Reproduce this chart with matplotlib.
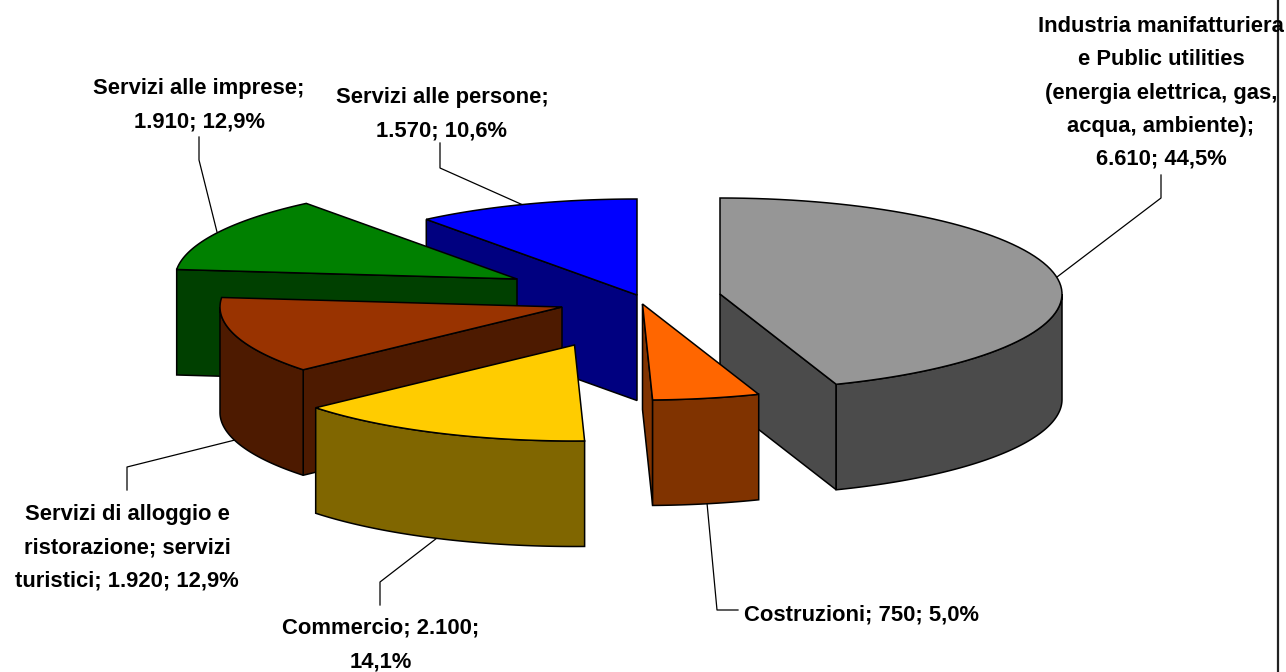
import numpy as np
import matplotlib
matplotlib.use("Agg")
import matplotlib.pyplot as plt
from matplotlib.patches import Polygon

# sectors, clockwise from 12 o'clock
names = [
    "Industria manifatturiera\ne Public utilities\n(energia elettrica, gas,\nacqua, ambiente);\n{v}; {p}",
    "Costruzioni; {v}; {p}",
    "Commercio; {v};\n{p}",
    "Servizi di alloggio e\nristorazione; servizi\nturistici; {v}; {p}",
    "Servizi alle imprese;\n{v}; {p}",
    "Servizi alle persone;\n{v}; {p}",
]
values = [6610, 750, 2100, 1920, 1910, 1570]
top_colors = ["#969696", "#ff6600", "#ffcc00", "#993300", "#008000", "#0000ff"]
side_colors = ["#4b4b4b", "#803300", "#806600", "#4d1a00", "#004000", "#000080"]

# where each exploded slice has its apex, in pixels
apex_x = [720, 642.5, 574.5, 562, 517, 637]
apex_y = [294, 304, 345, 307, 279, 295]
label_x = [1161, 862, 381, 127, 199, 442]
label_y = [93, 615, 645, 548, 105, 114]
leaders = [
    [(1161, 175), (1161, 198), (1057, 277)],
    [(738, 610), (717, 610), (707, 503)],
    [(380, 605), (380, 582), (437, 538)],
    [(127, 490), (127, 467), (235, 440)],
    [(199, 137), (199, 160), (217, 232)],
    [(440, 143), (440, 168), (523, 205)],
]

RX, RY, DEPTH = 342, 96, 105.5


def rim(cx, cy, t0, t1, drop=0):
    t = np.radians(np.linspace(t0, t1, 80))
    return np.column_stack([cx + RX * np.sin(t), cy - RY * np.cos(t) + drop])


def face(ax, pts, color, z):
    ax.add_patch(Polygon(pts, closed=True, facecolor=color, edgecolor="black",
                         linewidth=1.1, joinstyle="miter", zorder=z))


def draw_slice(ax, cx, cy, t0, t1, top, side, z):
    apex = np.array([cx, cy])
    low = np.array([cx, cy + DEPTH])
    # cut faces, only the ones turned towards the viewer
    if 180 < t0 < 360:
        p = rim(cx, cy, t0, t0)
        face(ax, [apex, p[0], p[0] + [0, DEPTH], low], side, z)
    if 0 < t1 < 180:
        p = rim(cx, cy, t1, t1)
        face(ax, [apex, p[0], p[0] + [0, DEPTH], low], side, z)
    # outer wall, front half of the ellipse only
    a, b = max(t0, 90), min(t1, 270)
    if a < b:
        wall = np.vstack([rim(cx, cy, a, b), rim(cx, cy, b, a, DEPTH)])
        face(ax, wall, side, z)
    face(ax, np.vstack([apex, rim(cx, cy, t0, t1)]), top, z + 0.5)


def fmt(v):
    return f"{v:,}".replace(",", ".")


def main():
    fig = plt.figure(figsize=(12.86, 6.72), dpi=100)
    ax = fig.add_axes([0, 0, 1, 1])
    ax.set_xlim(0, 1286)
    ax.set_ylim(672, 0)
    ax.axis("off")

    total = sum(values)
    edges = np.concatenate([[0], np.cumsum(values)]) / total * 360

    # painter's order: gray sits behind the orange one, then back to front
    for z, i in enumerate([0, 5, 4, 3, 2, 1]):
        draw_slice(ax, apex_x[i], apex_y[i], edges[i], edges[i + 1],
                   top_colors[i], side_colors[i], z + 2)

    for pts in leaders:
        xs, ys = zip(*pts)
        ax.plot(xs, ys, color="black", lw=0.9, zorder=1)

    ax.plot([1278, 1278], [0, 672], color="#222222", lw=1.6, zorder=1)

    for i, name in enumerate(names):
        pct = f"{values[i] / total * 100:.1f}%".replace(".", ",")
        ax.text(label_x[i], label_y[i], name.format(v=fmt(values[i]), p=pct),
                family="Liberation Sans", weight="bold", fontsize=15.8, color="black",
                ha="center", va="center", multialignment="center",
                linespacing=1.76, zorder=20)

    fig.savefig("out.png", dpi=100, facecolor="white")


if __name__ == "__main__":
    main()
